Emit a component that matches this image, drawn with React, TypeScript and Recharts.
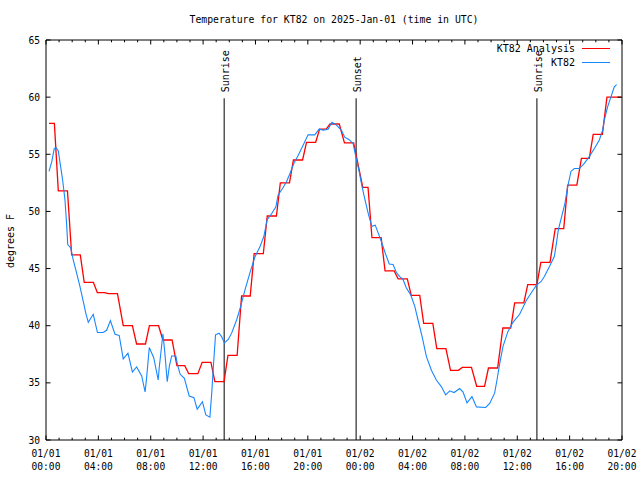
import React from 'react';
import { LineChart, Line, XAxis, YAxis, ReferenceLine, Legend } from 'recharts';

// ---- data (hours since 2025-01-01 00:00 UTC) ----
const obsHours = [0.23,0.44,0.63,0.76,0.94,1.12,1.27,1.45,1.58,1.66,1.89,2.08,2.34,2.6,2.85,3.03,3.23,3.44,3.61,3.93,4.37,4.63,4.92,5.27,5.59,5.9,6.26,6.6,6.92,7.31,7.57,7.69,7.89,8.23,8.57,8.65,8.83,8.93,9.08,9.26,9.43,9.6,9.92,10.04,10.25,10.57,10.94,11.3,11.55,11.95,12.21,12.52,12.66,12.79,12.95,13.22,13.41,13.63,13.92,14.18,14.56,14.86,15.19,15.57,15.95,16.34,16.64,16.89,17.23,17.56,17.73,18.07,18.37,18.63,18.93,19.26,19.64,20.02,20.53,20.86,21.17,21.55,21.85,22.19,22.57,22.82,23.13,23.46,23.59,23.72,23.92,24.14,24.39,24.64,24.89,25.15,25.38,25.67,25.93,26.22,26.51,26.77,27.02,27.27,27.53,27.86,28.17,28.42,28.73,29.06,29.44,29.82,30.21,30.53,30.84,31.17,31.6,31.86,32.16,32.54,32.88,33.59,33.89,34.27,34.45,34.66,34.91,35.29,35.67,36.18,36.69,37.2,37.5,37.81,38.07,38.45,38.83,38.95,39.14,39.39,39.64,39.85,40.1,40.36,40.74,41.12,41.5,41.89,42.27,42.52,42.65,42.9,43.15,43.41,43.59];
const obsTemps = [53.5,54.35,55.5,55.6,55.3,53.9,52.75,51.0,48.8,47.1,46.8,45.75,44.6,43.4,42.1,41.15,40.3,40.7,41.0,39.4,39.4,39.6,40.45,39.25,39.15,37.1,37.6,35.95,36.4,35.6,34.2,35.5,38.1,37.2,35.25,36.35,38.2,39.3,37.6,35.1,36.5,37.35,37.35,36.6,35.75,35.4,33.85,33.7,32.7,33.35,32.2,32.0,34.1,36.5,39.2,39.35,39.05,38.5,38.8,39.35,40.5,41.65,43.1,44.6,46.0,46.9,47.8,49.25,49.8,50.4,51.45,52.0,52.6,53.3,54.2,54.9,55.8,56.7,56.7,57.2,57.1,57.2,57.8,57.55,57.1,56.5,56.3,55.95,55.2,54.5,53.5,52.2,50.9,49.7,48.7,48.8,48.1,47.2,46.3,45.4,45.35,44.65,44.3,44.05,43.3,42.7,41.7,40.5,39.05,37.3,36.1,35.25,34.65,33.95,34.3,34.15,34.5,34.2,33.25,33.8,32.9,32.85,33.2,34.1,35.25,36.7,38.2,39.5,40.3,41.0,42.2,43.1,43.6,43.85,44.3,45.15,46.05,46.9,48.4,49.55,50.7,52.15,53.5,53.75,53.75,54.2,54.8,55.5,56.25,57.1,58.0,59.15,60.0,60.9,61.1];

const analysisHours = [0.23,0.94,1.96,2.92,3.92,4.76,5.9,6.92,7.9,8.93,10.0,10.9,11.93,12.9,13.9,14.94,15.9,16.9,17.9,18.9,19.9,20.9,21.7,22.8,24.2,24.9,25.9,26.9,27.9,28.85,29.85,30.9,31.8,32.9,33.8,34.9,35.8,36.8,37.8,38.9,39.85,40.9,41.8,42.85];
const analysisTemps = [57.7,51.8,46.2,43.8,42.9,42.8,40.0,38.4,40.0,38.75,36.5,35.8,36.8,35.1,37.4,42.6,46.3,49.6,52.5,54.5,56.05,57.2,57.65,56.0,52.1,47.7,44.8,44.1,42.65,40.2,38.0,36.1,36.35,34.7,36.3,39.8,42.0,43.6,45.55,48.5,52.3,54.65,56.75,60.0];
const analysisLastEnd = 43.95;

const sunEventHours = [13.61, 23.69, 37.5];
const sunEventLabels = ['Sunrise', 'Sunset', 'Sunrise'];

const majorTickHours = [0, 4, 8, 12, 16, 20, 24, 28, 32, 36, 40, 44];
const tickDateLabels = ['01/01','01/01','01/01','01/01','01/01','01/01','01/02','01/02','01/02','01/02','01/02','01/02'];
const tickTimeLabels = ['00:00','04:00','08:00','12:00','16:00','20:00','00:00','04:00','08:00','12:00','16:00','20:00'];
const minorTickHours = Array.from({ length: 45 }, (_, i) => i);
const yTicks = [30, 35, 40, 45, 50, 55, 60, 65];

const titleText = 'Temperature for KT82 on 2025-Jan-01 (time in UTC)';
const yLabelText = 'degrees F';
const seriesNames = ['KT82 Analysis', 'KT82'];
const RED = '#ff0000';
const BLUE = '#1787ff';

// ---- layout ----
const W = 640, H = 480;
const P = { left: 46, right: 622, top: 40, bottom: 440 };
const FONT = '"DejaVu Sans Mono", "Liberation Mono", monospace';

const obsData = obsHours.map((t, i) => ({ t, v: obsTemps[i] }));
const analysisData: { t: number; a: number }[] = [];
analysisHours.forEach((t, i) => {
  const v = analysisTemps[i];
  const end = i < analysisHours.length - 1
    ? Math.min(analysisHours[i + 1] - 0.3, t + 0.7)
    : analysisLastEnd;
  analysisData.push({ t, a: v });
  analysisData.push({ t: end, a: v });
});

const BottomTick = (props: any) => {
  const { x, payload } = props;
  const idx = majorTickHours.indexOf(payload.value);
  const major = idx >= 0;
  return (
    <g>
      <line x1={x} x2={x} y1={P.bottom} y2={P.bottom - (major ? 4.5 : 2.3)} stroke="#000" />
      {major && (
        <text x={x} y={457} textAnchor="middle" fontFamily={FONT} fontSize={9.6} fill="#000">
          {tickDateLabels[idx]}
        </text>
      )}
      {major && (
        <text x={x} y={470} textAnchor="middle" fontFamily={FONT} fontSize={9.6} fill="#000">
          {tickTimeLabels[idx]}
        </text>
      )}
    </g>
  );
};

const TopTick = (props: any) => {
  const { x, payload } = props;
  const major = majorTickHours.indexOf(payload.value) >= 0;
  return <line x1={x} x2={x} y1={P.top} y2={P.top + (major ? 4.5 : 2.3)} stroke="#000" />;
};

const LeftTick = (props: any) => {
  const { y, payload } = props;
  return (
    <g>
      <line x1={P.left} x2={P.left + 4.5} y1={y} y2={y} stroke="#000" />
      <text x={40} y={y + 3.5} textAnchor="end" fontFamily={FONT} fontSize={9.6} fill="#000">
        {payload.value}
      </text>
    </g>
  );
};

const RightTick = (props: any) => {
  const { y } = props;
  return <line x1={P.right} x2={P.right - 4.5} y1={y} y2={y} stroke="#000" />;
};

const makeSunLabel = (text: string) => (props: any) => {
  const vb = props.viewBox || {};
  const x = (vb.x ?? 0) + 1.5;
  const y = (vb.y ?? 0) - 6;
  return (
    <text
      x={x}
      y={y}
      transform={`rotate(-90, ${x}, ${y})`}
      textAnchor="start"
      dominantBaseline="central"
      fontFamily={FONT}
      fontSize={10}
      fill="#000"
    >
      {text}
    </text>
  );
};

const TitleLabel = () => (
  <text x={(P.left + P.right) / 2} y={19} textAnchor="middle" dominantBaseline="central"
    fontFamily={FONT} fontSize={9.8} fill="#000">
    {titleText}
  </text>
);

const YLabel = () => (
  <text x={10} y={241} transform="rotate(-90, 10, 241)" textAnchor="middle" dominantBaseline="central"
    fontFamily={FONT} fontSize={10} fill="#000">
    {yLabelText}
  </text>
);

const LegendBox = () => (
  <div style={{ position: 'relative', width: W, height: 80, fontFamily: FONT, fontSize: 10, color: '#000' }}>
    {[RED, BLUE].map((c, i) => (
      <React.Fragment key={i}>
        <div style={{ position: 'absolute', right: W - 575, top: 42 + i * 14, lineHeight: '14px', whiteSpace: 'pre' }}>
          {seriesNames[i]}
        </div>
        <div style={{ position: 'absolute', left: 582, width: 28, top: 48 + i * 14, height: 1, background: c }} />
      </React.Fragment>
    ))}
  </div>
);

export default function App() {
  return (
    <div style={{ position: 'absolute', left: 0, top: 0, width: W, height: H, background: '#fff' }}>
      <LineChart width={W} height={H} margin={{ top: 39, right: 0, bottom: 0, left: 0 }}>
        <XAxis xAxisId="b" dataKey="t" type="number" domain={[0, 44]} ticks={minorTickHours} interval={0}
          allowDataOverflow height={40} axisLine={{ stroke: '#000' }} tickLine={false} tick={<BottomTick />} />
        <XAxis xAxisId="top" orientation="top" dataKey="t" type="number" domain={[0, 44]} ticks={minorTickHours}
          interval={0} allowDataOverflow height={1} axisLine={{ stroke: '#000' }} tickLine={false} tick={<TopTick />}
          label={{ content: <TitleLabel /> }} />
        <YAxis yAxisId="l" type="number" domain={[30, 65]} ticks={yTicks} interval={0} allowDataOverflow width={46}
          axisLine={{ stroke: '#000' }} tickLine={false} tick={<LeftTick />} label={{ content: <YLabel /> }} />
        <YAxis yAxisId="r" orientation="right" type="number" domain={[30, 65]} ticks={yTicks} interval={0}
          allowDataOverflow width={18} axisLine={{ stroke: '#000' }} tickLine={false} tick={<RightTick />} />
        {sunEventHours.map((h, i) => (
          <ReferenceLine key={i} xAxisId="b" yAxisId="l" stroke="#000" strokeWidth={1}
            segment={[{ x: h, y: 30 }, { x: h, y: 59.9 }]}
            label={makeSunLabel(sunEventLabels[i])} />
        ))}
        <Line xAxisId="b" yAxisId="l" data={analysisData} dataKey="a" type="linear" stroke={RED} strokeWidth={1.3}
          dot={false} activeDot={false} isAnimationActive={false} name={seriesNames[0]} />
        <Line xAxisId="b" yAxisId="l" data={obsData} dataKey="v" type="linear" stroke={BLUE} strokeWidth={1.1}
          dot={false} activeDot={false} isAnimationActive={false} name={seriesNames[1]} />
        <Legend layout="vertical" align="center" verticalAlign="middle" content={<LegendBox />}
          wrapperStyle={{ position: 'absolute', left: 0, top: 0, width: W, height: 80 }} />
      </LineChart>
    </div>
  );
}
